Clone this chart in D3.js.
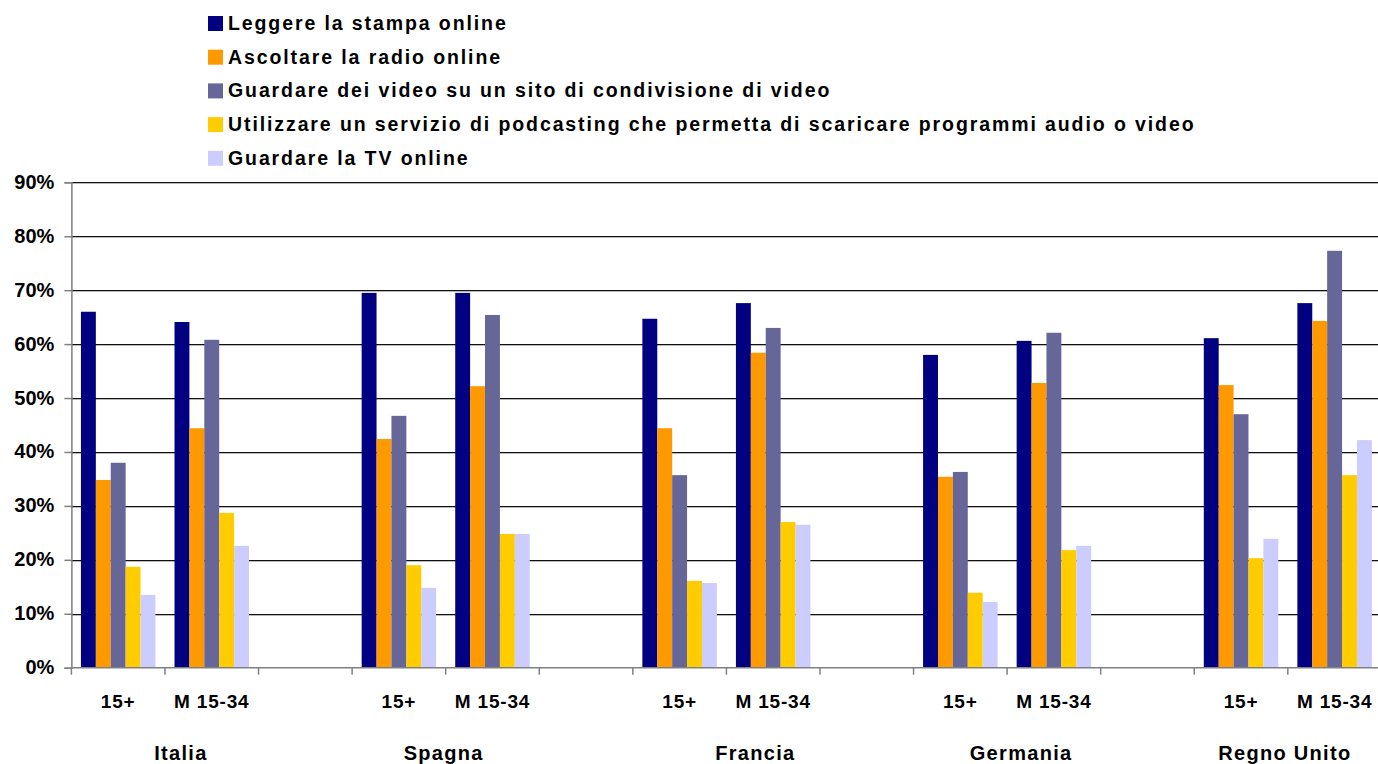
<!DOCTYPE html>
<html>
<head>
<meta charset="utf-8">
<script src="https://cdn.jsdelivr.net/npm/d3@7"></script>
<style>
  html, body { margin: 0; padding: 0; background: #fff; }
  svg { display: block; font-family: "Liberation Sans", Arial, sans-serif; font-weight: bold; }
</style>
</head>
<body>
<svg id="chart" width="1378" height="764"></svg>
<script>
// ---- data ----
const countries = ["Italia", "Spagna", "Francia", "Germania", "Regno Unito"];
const groups = ["15+", "M 15-34"];
const seriesNames = [
  "Leggere la stampa online",
  "Ascoltare la radio online",
  "Guardare dei video su un sito di condivisione di video",
  "Utilizzare un servizio di podcasting che permetta di scaricare programmi audio o video",
  "Guardare la TV online"
];
const seriesColors = ["#000080", "#FF9900", "#666699", "#FFCC00", "#CCCCFF"];
// values in %, order: Italia 15+, Italia M, Spagna 15+, Spagna M, Francia 15+, Francia M, Germania 15+, Germania M, Regno Unito 15+, Regno Unito M
const stampa  = [66.0, 64.1, 69.5, 69.5, 64.7, 67.6, 58.0, 60.6, 61.1, 67.6];
const radio   = [34.8, 44.4, 42.4, 52.2, 44.4, 58.4, 35.4, 52.8, 52.4, 64.3];
const video   = [38.0, 60.8, 46.7, 65.4, 35.7, 63.0, 36.3, 62.1, 47.0, 77.3];
const podcast = [18.7, 28.7, 19.0, 24.8, 16.1, 27.0, 13.9, 21.8, 20.3, 35.7];
const tv      = [13.5, 22.6, 14.8, 24.8, 15.7, 26.5, 12.2, 22.6, 23.9, 42.2];
const seriesValues = [stampa, radio, video, podcast, tv];
const yTicks = [0, 10, 20, 30, 40, 50, 60, 70, 80, 90];
// horizontal nudges of the country captions (as placed in the original)
const countryLabelNudge = [16, -2, 29, 14, -3];

// ---- layout ----
const plotLeft = 71.4, plotRight = 1381.4, plotTop = 182.3, plotBottom = 667.7;
const svg = d3.select("#chart");

// slots: country, group, or blank separators
const slots = [];
countries.forEach((c, ci) => {
  groups.forEach((g, gi) => slots.push({ key: c + "|" + g, country: c, group: g, idx: ci * 2 + gi }));
  if (ci < countries.length - 1) slots.push({ key: "blank" + ci, country: null, group: null, idx: null });
});

const x0 = d3.scaleBand().domain(slots.map(s => s.key)).range([plotLeft, plotRight]).padding(0);
const x1 = d3.scaleBand().domain(d3.range(seriesNames.length)).range([0, x0.bandwidth()]).paddingInner(0).paddingOuter(0.64);
const y = d3.scaleLinear().domain([0, 90]).range([plotBottom, plotTop]);

// gridlines
svg.append("g").selectAll("line").data(yTicks.filter(t => t > 0)).join("line")
  .attr("x1", plotLeft).attr("x2", 1378)
  .attr("y1", d => Math.round(y(d)) + 0.5).attr("y2", d => Math.round(y(d)) + 0.5)
  .attr("stroke", "#111").attr("stroke-width", 1);
svg.append("g").selectAll("line").data(yTicks.filter(t => t > 0)).join("line")
  .attr("x1", plotLeft).attr("x2", 1378)
  .attr("y1", d => Math.round(y(d)) + 1.5).attr("y2", d => Math.round(y(d)) + 1.5)
  .attr("stroke", "#b8b8b8").attr("stroke-width", 1);

// bars
const barData = [];
slots.forEach(s => {
  if (s.idx === null) return;
  seriesValues.forEach((vals, si) => barData.push({ slot: s.key, si, v: vals[s.idx] }));
});
svg.append("g").selectAll("rect").data(barData).join("rect")
  .attr("x", d => x0(d.slot) + x1(d.si))
  .attr("width", x1.bandwidth())
  .attr("y", d => y(d.v))
  .attr("height", d => y(0) - y(d.v))
  .attr("fill", d => seriesColors[d.si]);

// y axis
const yAxis = svg.append("g").attr("transform", `translate(${plotLeft},0)`)
  .call(d3.axisLeft(y).tickValues(yTicks).tickSize(7).tickPadding(10).tickFormat(d => d + "%"));
yAxis.select(".domain").attr("stroke", "#808080").attr("stroke-width", 1.5);
yAxis.selectAll(".tick line").attr("stroke", "#808080").attr("stroke-width", 1.5);
yAxis.selectAll(".tick text").attr("font-size", 20).attr("font-weight", "bold")
  .attr("font-family", "Liberation Sans, Arial, sans-serif").attr("fill", "#000").attr("dy", "0.3em");

// x axis baseline with ticks at slot boundaries
const boundaries = slots.map(s => x0(s.key)).concat([plotRight]);
svg.append("line").attr("x1", plotLeft).attr("x2", 1378).attr("y1", plotBottom).attr("y2", plotBottom)
  .attr("stroke", "#808080").attr("stroke-width", 1.5);
svg.append("g").selectAll("line").data(boundaries).join("line")
  .attr("x1", d => d).attr("x2", d => d).attr("y1", plotBottom).attr("y2", plotBottom + 7)
  .attr("stroke", "#808080").attr("stroke-width", 1.5);

// group labels
svg.append("g").selectAll("text").data(slots.filter(s => s.idx !== null)).join("text")
  .attr("x", d => x0(d.key) + x0.bandwidth() / 2)
  .attr("y", 707.5)
  .attr("text-anchor", "middle")
  .attr("font-size", 19).attr("letter-spacing", "0.8px")
  .text(d => d.group);

// country labels
svg.append("g").selectAll("text").data(countries).join("text")
  .attr("x", (c, i) => (x0(c + "|" + groups[0]) + x0(c + "|" + groups[1]) + x0.bandwidth()) / 2 + countryLabelNudge[i])
  .attr("y", 760)
  .attr("text-anchor", "middle")
  .attr("font-size", 20).attr("letter-spacing", "1.3px")
  .text(d => d);

// legend
const legend = svg.append("g").attr("transform", "translate(208,16)");
const li = legend.selectAll("g").data(seriesNames).join("g")
  .attr("transform", (d, i) => `translate(0,${i * 33.7})`);
li.append("rect").attr("width", 15).attr("height", 15).attr("fill", (d, i) => seriesColors[i]);
li.append("text").attr("x", 20).attr("y", 14)
  .attr("font-size", 19.5).attr("letter-spacing", "1.9px")
  .text(d => d);
</script>
</body>
</html>
